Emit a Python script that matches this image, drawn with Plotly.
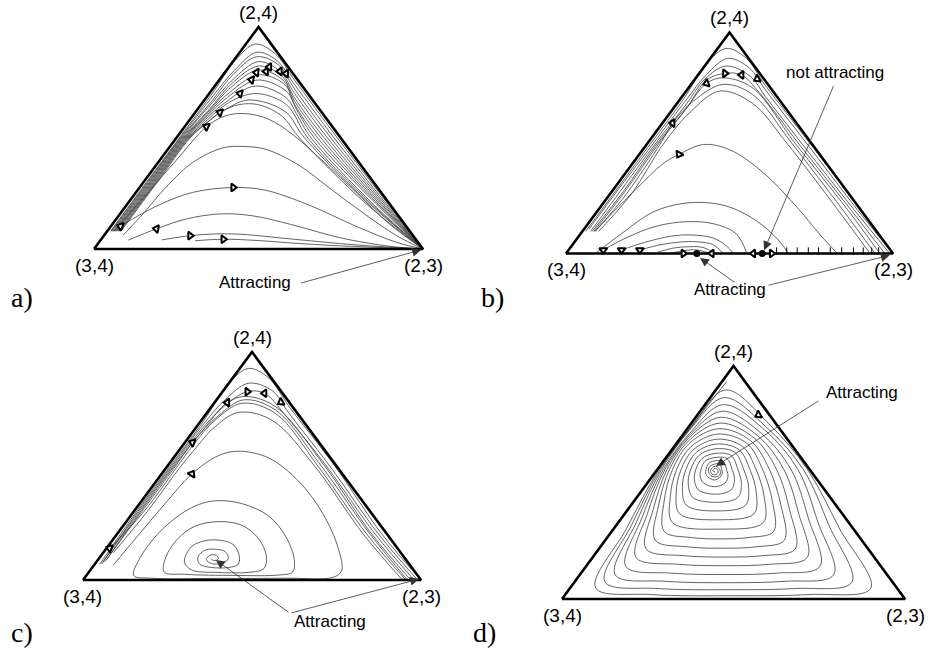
import plotly.graph_objects as go

# ---------------- data (triangle-plane coordinates: u along base (3,4)->(2,3), v height towards (2,4)) -------------
vertex_names = ["(2,4)", "(3,4)", "(2,3)"]
tri_u = [0.0, 0.5, 1.0, 0.0]
tri_v = [0.0, 1.0, 0.0, 0.0]

a_curves = [
    [(0.05,0.08),(0.159,0.30),(0.259,0.50),(0.359,0.70),(0.43,0.85),(0.49,0.923),(0.55,0.88),(0.61,0.76),(0.74,0.50),(0.895,0.20),(1.0,0.0)],
    [(0.052,0.08),(0.162,0.30),(0.262,0.50),(0.362,0.69),(0.43,0.81),(0.495,0.886),(0.555,0.85),(0.61,0.74),(0.73,0.50),(0.89,0.20),(1.0,0.0)],
    [(0.055,0.08),(0.165,0.30),(0.265,0.50),(0.36,0.67),(0.425,0.79),(0.495,0.866),(0.56,0.83),(0.61,0.72),(0.72,0.50),(0.885,0.20),(1.0,0.0)],
    [(0.058,0.08),(0.168,0.30),(0.268,0.50),(0.36,0.66),(0.42,0.76),(0.50,0.844),(0.565,0.80),(0.61,0.70),(0.71,0.50),(0.88,0.20),(1.0,0.0)],
    [(0.061,0.08),(0.171,0.30),(0.271,0.50),(0.36,0.645),(0.415,0.74),(0.50,0.824),(0.57,0.78),(0.61,0.68),(0.70,0.50),(0.875,0.20),(1.0,0.0)],
    [(0.064,0.08),(0.174,0.30),(0.274,0.50),(0.355,0.63),(0.41,0.72),(0.50,0.806),(0.575,0.76),(0.61,0.665),(0.69,0.50),(0.87,0.20),(1.0,0.0)],
    [(0.067,0.08),(0.177,0.30),(0.277,0.50),(0.35,0.615),(0.40,0.69),(0.50,0.784),(0.58,0.74),(0.61,0.65),(0.68,0.50),(0.865,0.20),(1.0,0.0)],
    [(0.07,0.08),(0.18,0.30),(0.28,0.50),(0.345,0.60),(0.395,0.67),(0.495,0.761),(0.585,0.71),(0.615,0.63),(0.67,0.50),(0.86,0.20),(1.0,0.0)],
    [(0.073,0.08),(0.183,0.30),(0.283,0.50),(0.34,0.585),(0.39,0.65),(0.49,0.734),(0.585,0.68),(0.615,0.61),(0.66,0.50),(0.85,0.20),(1.0,0.0)],
    [(0.076,0.08),(0.186,0.30),(0.286,0.50),(0.34,0.575),(0.39,0.64),(0.444,0.685),(0.50,0.70),(0.585,0.65),(0.65,0.50),(0.845,0.20),(1.0,0.0)],
    [(0.079,0.08),(0.189,0.30),(0.289,0.50),(0.335,0.56),(0.39,0.62),(0.47,0.671),(0.58,0.62),(0.64,0.50),(0.84,0.20),(1.0,0.0)],
    [(0.082,0.08),(0.192,0.30),(0.292,0.50),(0.345,0.57),(0.383,0.615),(0.44,0.65),(0.50,0.65),(0.57,0.60),(0.625,0.50),(0.83,0.20),(1.0,0.0)],
    [(0.06,0.08),(0.15,0.23),(0.25,0.40),(0.342,0.551),(0.40,0.60),(0.46,0.61),(0.53,0.585),(0.60,0.52),(0.70,0.39),(0.80,0.25),(0.90,0.11),(1.0,0.0)],
    [(0.089,0.063),(0.15,0.16),(0.22,0.28),(0.30,0.39),(0.39,0.455),(0.45,0.462),(0.52,0.45),(0.62,0.38),(0.72,0.27),(0.82,0.16),(0.92,0.06),(1.0,0.0)],
    [(0.069,0.086),(0.081,0.102),(0.20,0.20),(0.30,0.255),(0.423,0.277),(0.52,0.265),(0.65,0.20),(0.80,0.10),(0.92,0.03),(1.0,0.0)],
    [(0.104,0.04),(0.19,0.091),(0.28,0.135),(0.383,0.158),(0.48,0.15),(0.60,0.11),(0.75,0.05),(0.90,0.012),(1.0,0.0)],
    [(0.206,0.041),(0.292,0.06),(0.37,0.068),(0.45,0.066),(0.60,0.045),(0.80,0.018),(1.0,0.0)],
    [(0.307,0.037),(0.393,0.044),(0.50,0.038),(0.60,0.027),(0.75,0.014),(0.90,0.005),(1.0,0.0)],
]
a_arrow_u = [0.383, 0.444, 0.479, 0.494, 0.523, 0.533, 0.565, 0.584, 0.342, 0.081, 0.19, 0.292, 0.393, 0.423]
a_arrow_v = [0.615, 0.70, 0.762, 0.795, 0.80, 0.82, 0.80, 0.79, 0.551, 0.102, 0.091, 0.06, 0.044, 0.277]
a_arrow_angle = [200, 195, 190, 185, 180, 180, 180, 180, 205, 200, 190, 0, 0, 0]

b_curves = [
    [(0.06,0.10),(0.16,0.30),(0.26,0.50),(0.36,0.70),(0.43,0.86),(0.49,0.928),(0.55,0.885),(0.61,0.76),(0.745,0.50),(0.90,0.20),(1.0,0.0)],
    [(0.07,0.11),(0.165,0.30),(0.268,0.50),(0.365,0.69),(0.43,0.81),(0.495,0.883),(0.56,0.84),(0.61,0.74),(0.735,0.50),(0.89,0.20),(1.0,0.0)],
    [(0.075,0.10),(0.17,0.29),(0.275,0.50),(0.37,0.68),(0.425,0.79),(0.49,0.848),(0.565,0.80),(0.61,0.71),(0.72,0.50),(0.88,0.20),(0.99,0.0)],
    [(0.08,0.10),(0.175,0.28),(0.28,0.50),(0.37,0.66),(0.43,0.785),(0.486,0.815),(0.537,0.808),(0.59,0.73),(0.71,0.50),(0.87,0.20),(0.975,0.0)],
    [(0.085,0.10),(0.18,0.28),(0.285,0.50),(0.36,0.64),(0.43,0.77),(0.48,0.795),(0.57,0.75),(0.70,0.50),(0.86,0.20),(0.96,0.0)],
    [(0.09,0.10),(0.185,0.27),(0.29,0.50),(0.326,0.59),(0.39,0.69),(0.48,0.765),(0.57,0.72),(0.69,0.50),(0.845,0.20),(0.945,0.0)],
    [(0.10,0.10),(0.20,0.27),(0.30,0.50),(0.38,0.64),(0.47,0.735),(0.57,0.68),(0.675,0.50),(0.83,0.20),(0.93,0.0)],
    [(0.087,0.10),(0.20,0.27),(0.30,0.41),(0.346,0.449),(0.42,0.493),(0.50,0.47),(0.60,0.37),(0.70,0.22),(0.78,0.08),(0.83,0.0)],
    [(0.09,0.0),(0.17,0.09),(0.27,0.19),(0.38,0.23),(0.49,0.215),(0.58,0.15),(0.65,0.06),(0.68,0.0)],
    [(0.114,0.016),(0.19,0.075),(0.28,0.125),(0.37,0.144),(0.45,0.135),(0.52,0.09),(0.553,0.0)],
    [(0.17,0.016),(0.24,0.05),(0.32,0.078),(0.38,0.084),(0.45,0.07),(0.49,0.035),(0.512,0.0)],
    [(0.226,0.016),(0.29,0.04),(0.35,0.052),(0.40,0.053),(0.45,0.04),(0.481,0.0)],
    [(0.278,0.005),(0.33,0.025),(0.38,0.031),(0.42,0.027),(0.456,0.0)],
    [(0.318,0.0),(0.36,0.013),(0.40,0.016),(0.44,0.0)],
]
b_arrow_u = [0.486, 0.537, 0.585, 0.43, 0.326, 0.346, 0.114, 0.17, 0.226, 0.359, 0.446, 0.573, 0.629]
b_arrow_v = [0.815, 0.808, 0.79, 0.77, 0.59, 0.449, 0.016, 0.016, 0.016, 0.0, 0.0, 0.0, 0.0]
b_arrow_angle = [0, 180, 150, 160, 180, 120, 90, 90, 90, 0, 180, 180, 0]
b_dot_u = [0.40, 0.60]
b_dot_v = [0.0, 0.0]
b_tick_u = [0.644, 0.675, 0.707, 0.741, 0.772, 0.808, 0.843, 0.879, 0.909, 0.935, 0.956]

c_curves = [
    [(0.05,0.07),(0.158,0.30),(0.258,0.50),(0.358,0.70),(0.43,0.86),(0.49,0.928),(0.55,0.885),(0.61,0.76),(0.745,0.50),(0.885,0.20),(1.0,0.0)],
    [(0.055,0.07),(0.162,0.30),(0.262,0.50),(0.36,0.69),(0.42,0.79),(0.49,0.863),(0.56,0.83),(0.61,0.73),(0.73,0.50),(0.875,0.20),(0.99,0.0)],
    [(0.06,0.08),(0.166,0.30),(0.266,0.50),(0.362,0.68),(0.42,0.765),(0.486,0.826),(0.537,0.819),(0.60,0.72),(0.72,0.50),(0.865,0.20),(0.98,0.0)],
    [(0.065,0.08),(0.17,0.30),(0.27,0.50),(0.362,0.67),(0.427,0.778),(0.48,0.805),(0.57,0.76),(0.715,0.50),(0.855,0.20),(0.97,0.0)],
    [(0.07,0.09),(0.174,0.30),(0.274,0.50),(0.324,0.603),(0.40,0.72),(0.475,0.79),(0.57,0.745),(0.705,0.50),(0.85,0.20),(0.96,0.0)],
    [(0.079,0.139),(0.18,0.30),(0.28,0.50),(0.33,0.60),(0.39,0.70),(0.47,0.775),(0.57,0.73),(0.695,0.50),(0.84,0.20),(0.955,0.0)],
    [(0.09,0.12),(0.19,0.30),(0.29,0.50),(0.34,0.59),(0.385,0.665),(0.46,0.735),(0.56,0.70),(0.685,0.50),(0.83,0.20),(0.945,0.0)],
    [(0.09,0.066),(0.16,0.19),(0.24,0.33),(0.322,0.465),(0.40,0.545),(0.46,0.565),(0.55,0.535),(0.64,0.43),(0.71,0.29),
     (0.755,0.14),(0.765,0.04),(0.74,0.012),(0.60,0.008),(0.40,0.007),(0.20,0.008),(0.15,0.02),(0.17,0.10),(0.22,0.20),
     (0.29,0.29),(0.35,0.335),(0.40,0.348),(0.47,0.335),(0.55,0.28),(0.60,0.19),(0.625,0.09),(0.62,0.035),(0.58,0.022),
     (0.45,0.02),(0.30,0.025),(0.24,0.035),(0.245,0.10),(0.28,0.18),(0.33,0.235),(0.40,0.256),(0.47,0.24),(0.52,0.18),
     (0.543,0.10),(0.535,0.05),(0.50,0.035),(0.40,0.033),(0.32,0.045),(0.30,0.08),(0.32,0.145),(0.36,0.172),(0.40,0.175),
     (0.44,0.16),(0.46,0.12),(0.46,0.07),(0.43,0.055),(0.38,0.055),(0.345,0.07),(0.34,0.10),(0.36,0.13),(0.39,0.135),
     (0.42,0.125),(0.43,0.095),(0.415,0.075),(0.38,0.072),(0.365,0.09),(0.375,0.108),(0.395,0.108),(0.40,0.092),
     (0.385,0.085),(0.38,0.094)],
]
c_arrow_u = [0.486, 0.537, 0.586, 0.427, 0.324, 0.079, 0.322]
c_arrow_v = [0.826, 0.819, 0.78, 0.778, 0.603, 0.139, 0.465]
c_arrow_angle = [0, 180, 150, 180, 200, 200, 300]

# panel d: one trajectory spiralling inwards, loop by loop (outer -> inner)
d_curves = [
    [(0.48,0.933),(0.382,0.75),(0.282,0.555),(0.188,0.302),(0.098,0.048),(0.26,0.019),(0.50,0.014),(0.72,0.019),(0.90,0.046),(0.81,0.30),(0.716,0.555),(0.603,0.752),
     (0.477,0.897),(0.376,0.736),(0.286,0.555),(0.202,0.315),(0.125,0.074),(0.28,0.045),(0.496,0.04),(0.68,0.045),(0.845,0.072),(0.779,0.314),(0.704,0.555),(0.597,0.736),
     (0.473,0.864),(0.372,0.725),(0.29,0.555),(0.217,0.33),(0.155,0.104),(0.30,0.076),(0.491,0.07),(0.65,0.076),(0.792,0.104),(0.746,0.33),(0.688,0.555),(0.591,0.725),
     (0.47,0.834),(0.372,0.711),(0.295,0.555),(0.233,0.348),(0.186,0.14),(0.32,0.111),(0.486,0.105),(0.625,0.111),(0.752,0.14),(0.718,0.348),(0.668,0.555),(0.581,0.711),
     (0.467,0.806),(0.37,0.70),(0.30,0.555),(0.249,0.367),(0.216,0.178),(0.34,0.149),(0.481,0.143),(0.605,0.149),(0.715,0.178),(0.69,0.367),(0.647,0.555),(0.571,0.70),
     (0.464,0.78),(0.369,0.69),(0.306,0.555),(0.266,0.385),(0.245,0.215),(0.355,0.186),(0.476,0.18),(0.585,0.186),(0.68,0.215),(0.663,0.385),(0.626,0.555),(0.561,0.69),
     (0.461,0.755),(0.369,0.679),(0.313,0.555),(0.282,0.404),(0.272,0.252),(0.365,0.224),(0.471,0.218),(0.565,0.224),(0.648,0.252),(0.638,0.404),(0.605,0.555),(0.55,0.679),
     (0.458,0.731),(0.371,0.668),(0.322,0.555),(0.298,0.422),(0.298,0.29),(0.375,0.264),(0.466,0.258),(0.545,0.264),(0.617,0.29),(0.613,0.422),(0.585,0.555),(0.539,0.668),
     (0.455,0.708),(0.376,0.654),(0.334,0.555),(0.316,0.442),(0.322,0.328),(0.461,0.30),(0.587,0.328),(0.589,0.442),(0.566,0.555),(0.527,0.654),
     (0.453,0.686),(0.383,0.641),(0.347,0.555),(0.333,0.46),(0.343,0.366),(0.457,0.34),(0.56,0.366),(0.566,0.46),(0.548,0.555),(0.516,0.641),
     (0.451,0.665),(0.391,0.629),(0.361,0.555),(0.351,0.479),(0.363,0.402),(0.453,0.378),(0.535,0.402),(0.544,0.479),(0.53,0.555),(0.504,0.629),
     (0.449,0.645),(0.399,0.616),(0.375,0.555),(0.368,0.496),(0.381,0.436),(0.45,0.415),(0.513,0.436),(0.523,0.496),(0.513,0.555),(0.493,0.616),
     (0.447,0.625),(0.408,0.603),(0.39,0.555),(0.386,0.512),(0.398,0.468),(0.447,0.45),(0.493,0.468),(0.503,0.512),(0.496,0.555),(0.481,0.603),
     (0.445,0.607),(0.417,0.591),(0.405,0.555),(0.403,0.526),(0.413,0.497),(0.445,0.482),(0.475,0.497),(0.484,0.526),(0.48,0.555),(0.47,0.591),
     (0.443,0.592),(0.427,0.581),(0.42,0.555),(0.419,0.538),(0.427,0.522),(0.444,0.511),(0.46,0.522),(0.467,0.538),(0.466,0.555),(0.459,0.581),
     (0.443,0.578),(0.43,0.567),(0.427,0.548),(0.434,0.53),(0.447,0.524),(0.46,0.532),(0.461,0.552),(0.452,0.568),(0.442,0.568),
     (0.434,0.556),(0.435,0.54),(0.446,0.533),(0.455,0.542),(0.452,0.558),(0.443,0.56),(0.44,0.55),(0.446,0.545)],
]
d_arrow_u = [0.573]
d_arrow_v = [0.79]
d_arrow_angle = [150]

# ---------------- layout constants ----------------
FIG_W, FIG_H = 928, 654
# panel geometry in pixels: left base x, base y, width, height
PANELS = {
    "a": (94, 249, 329, 222),
    "b": (566, 253.5, 327, 221),
    "c": (83, 580, 338, 228),
    "d": (562, 599, 343, 233),
}
XR = [-0.2, 1.06]
YR = [-0.22, 1.1]
CURVE_COLOR = "#3c3c3c"
LABEL_FONT = dict(family="Liberation Sans, Arial, sans-serif", size=17, color="black")
VERTEX_FONT = dict(family="Liberation Sans, Arial, sans-serif", size=19, color="black")

fig = go.Figure()
annotations = []


def ax_names(i):
    return ("x" if i == 0 else f"x{i+1}", "y" if i == 0 else f"y{i+1}")


panel_data = {
    "a": dict(curves=a_curves, au=a_arrow_u, av=a_arrow_v, aa=a_arrow_angle),
    "b": dict(curves=b_curves, au=b_arrow_u, av=b_arrow_v, aa=b_arrow_angle),
    "c": dict(curves=c_curves, au=c_arrow_u, av=c_arrow_v, aa=c_arrow_angle),
    "d": dict(curves=d_curves, au=d_arrow_u, av=d_arrow_v, aa=d_arrow_angle),
}

for i, key in enumerate(["a", "b", "c", "d"]):
    lx, ly, w, h = PANELS[key]
    xa, ya = ax_names(i)
    xdom = [(lx + XR[0] * w) / FIG_W, (lx + XR[1] * w) / FIG_W]
    ydom = [1 - (ly - YR[0] * h) / FIG_H, 1 - (ly - YR[1] * h) / FIG_H]
    axis_common = dict(visible=False, showgrid=False, zeroline=False, fixedrange=True)
    sfx = "" if i == 0 else str(i + 1)
    fig.layout["xaxis" + sfx] = dict(domain=xdom, range=XR, anchor=ya, **axis_common)
    fig.layout["yaxis" + sfx] = dict(domain=ydom, range=YR, anchor=xa, **axis_common)

    pdict = panel_data[key]
    for curve in pdict["curves"]:
        fig.add_trace(go.Scatter(
            x=[p[0] for p in curve], y=[p[1] for p in curve], mode="lines",
            line=dict(color=CURVE_COLOR, width=0.8, shape="spline", smoothing=1.0),
            xaxis=xa, yaxis=ya, hoverinfo="skip", showlegend=False))

    fig.add_trace(go.Scatter(
        x=tri_u, y=tri_v, mode="lines", line=dict(color="black", width=2.6),
        xaxis=xa, yaxis=ya, hoverinfo="skip", showlegend=False))

    if key == "b":
        fig.add_trace(go.Scatter(
            x=b_tick_u, y=[0.012] * len(b_tick_u), mode="markers",
            marker=dict(symbol="line-ns", size=5, line=dict(color="black", width=1)),
            xaxis=xa, yaxis=ya, hoverinfo="skip", showlegend=False))
        fig.add_trace(go.Scatter(
            x=b_dot_u, y=b_dot_v, mode="markers",
            marker=dict(symbol="circle", size=7, color="black"),
            xaxis=xa, yaxis=ya, hoverinfo="skip", showlegend=False))

    fig.add_trace(go.Scatter(
        x=pdict["au"], y=pdict["av"], mode="markers",
        marker=dict(symbol="triangle-right", size=7, color="white", angle=pdict["aa"],
                    line=dict(color="black", width=2)),
        xaxis=xa, yaxis=ya, hoverinfo="skip", showlegend=False))

    for name, (u, v, ys) in zip(vertex_names, [(0.5, 1.0, 15), (0.0, 0.0, -16), (1.0, 0.0, -16)]):
        annotations.append(dict(x=u, y=v, xref=xa, yref=ya, text=name, showarrow=False,
                                yshift=ys, font=VERTEX_FONT, xanchor="center", yanchor="middle"))


def pointer(xa, ya, tail, head, arrow=True):
    annotations.append(dict(x=head[0], y=head[1], ax=tail[0], ay=tail[1], xref=xa, yref=ya,
                            axref=xa, ayref=ya, text="", showarrow=True,
                            arrowhead=2 if arrow else 0, arrowsize=2.2, arrowwidth=0.8,
                            arrowcolor="#333333", standoff=0, startstandoff=0))


def label(xa, ya, pos, text):
    annotations.append(dict(x=pos[0], y=pos[1], xref=xa, yref=ya, text=text, showarrow=False,
                            font=LABEL_FONT, xanchor="center", yanchor="middle"))

# panel a
label("x", "y", (0.489, -0.153), "Attracting")
pointer("x", "y", (0.625, -0.155), (0.994, -0.004))
# panel b
label("x2", "y2", (0.823, 0.817), "not attracting")
pointer("x2", "y2", (0.82, 0.765), (0.606, 0.015))
label("x2", "y2", (0.502, -0.165), "Attracting")
pointer("x2", "y2", (0.52, -0.135), (0.41, -0.02))
pointer("x2", "y2", (0.615, -0.145), (0.99, -0.008))
# panel c
label("x3", "y3", (0.731, -0.184), "Attracting")
pointer("x3", "y3", (0.612, -0.146), (0.393, 0.088))
pointer("x3", "y3", (0.612, -0.146), (0.994, 0.004))
# panel d
label("x4", "y4", (0.875, 0.888), "Attracting")
pointer("x4", "y4", (0.752, 0.854), (0.449, 0.571))

letter_font = dict(family="Liberation Serif, DejaVu Serif, serif", size=28, color="black")
for txt, px, py in [("a)", 22, 297), ("b)", 492, 297), ("c)", 22, 632), ("d)", 484, 632)]:
    annotations.append(dict(x=px / FIG_W, y=1 - py / FIG_H, xref="paper", yref="paper", text=txt,
                            showarrow=False, font=letter_font, xanchor="center", yanchor="middle"))

fig.update_layout(
    width=FIG_W, height=FIG_H, margin=dict(l=0, r=0, t=0, b=0),
    paper_bgcolor="white", plot_bgcolor="white", showlegend=False,
    annotations=annotations,
)

fig.write_html("out.html", config={"displayModeBar": False, "staticPlot": True},
               post_script="document.body.style.margin='0px';document.body.style.padding='0px';")
